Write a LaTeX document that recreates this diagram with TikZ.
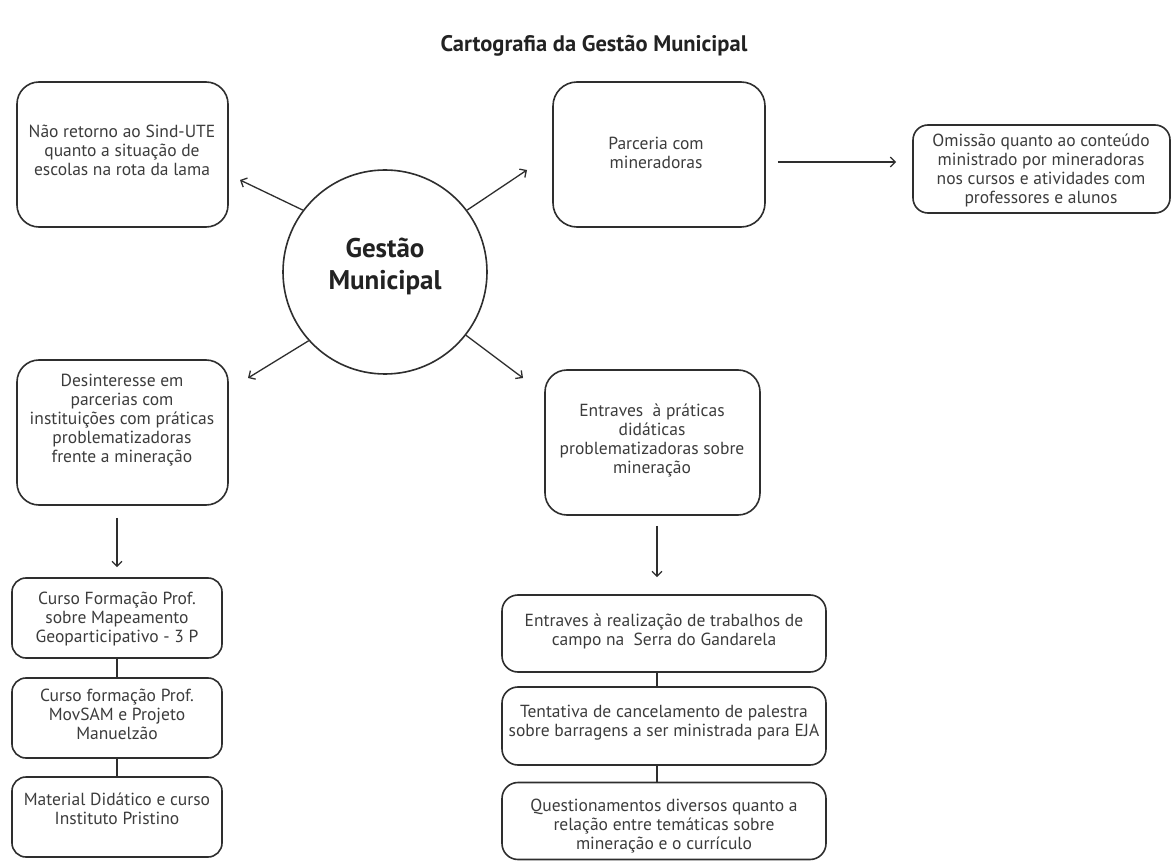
\documentclass[tikz,border=0pt]{standalone}
\usepackage{fontspec}
\setmainfont{PT Sans}
\usetikzlibrary{arrows.meta}
\definecolor{linec}{HTML}{2E2E2E}
\definecolor{textc}{HTML}{3C3C3C}
\definecolor{titlec}{HTML}{222222}
\newcommand{\bodyfs}{\fontsize{17.5}{19}\selectfont}
\tikzset{
  box/.style={draw=linec, line width=1.6pt, rounded corners=#1, inner sep=0pt},
  box/.default=20pt,
  txt/.style={text=textc, font=\bodyfs, align=center, inner sep=0pt},
  arr/.style={-{Straight Barb[length=5pt,width=10pt,line width=1.3pt]}, line width=1.3pt, draw=linec},
  link/.style={line width=1.6pt, draw=linec},
}
\begin{document}
\begin{tikzpicture}[x=1pt,y=-1pt]
\useasboundingbox (0,0) rectangle (1171,861);
\fill[white] (0,0) rectangle (1171,861);

% title
\node[text=titlec, font=\bfseries\fontsize{22.5}{26}\selectfont] (T) at (594,46) {Cartografia da Gestão Municipal};

% central circle
\node[circle, draw=linec, line width=1.6pt, minimum size=204pt, inner sep=0pt] (G) at (385,272) {};
\node[text=titlec, font=\bfseries\fontsize{27}{32}\selectfont, align=center] (Gt) at (385,266) {Gestão\\Municipal};

% upper boxes
\node[box=22pt, minimum width=211pt, minimum height=145pt] (A) at (122.5,154.5) {};
\node[txt] (At) at (122,150) {Não retorno ao Sind-UTE\\quanto a situação de\\escolas na rota da lama};

\node[box=24pt, minimum width=212pt, minimum height=145pt] (B) at (659,154.5) {};
\node[txt] (Bt) at (656,153) {Parceria com\\mineradoras};

\node[box=15pt, minimum width=257pt, minimum height=88pt] (C) at (1041.5,169) {};
\node[txt] (Ct) at (1041,170) {Omissão quanto ao conteúdo\\ministrado por mineradoras\\nos cursos e atividades com\\professores e alunos};

% left column
\node[box=22pt, minimum width=211pt, minimum height=145pt] (D) at (122.5,432.5) {};
\node[txt] (Dt) at (122,420) {Desinteresse em\\parcerias com\\instituições com práticas\\problematizadoras\\frente a mineração};

\node[box=14pt, minimum width=210pt, minimum height=80pt] (E) at (117,618) {};
\node[txt] (Et) at (117,619) {Curso Formação Prof.\\sobre Mapeamento\\Geoparticipativo - 3 P};

\node[box=14pt, minimum width=210pt, minimum height=80pt] (F) at (117,718) {};
\node[txt] (Ft) at (117,714) {Curso formação Prof.\\MovSAM e Projeto\\Manuelzão};

\node[box=14pt, minimum width=210pt, minimum height=80pt] (Gm) at (117,817) {};
\node[txt] (Gmt) at (117,809) {Material Didático e curso\\Instituto Pristino};

% right column
\node[box=22pt, minimum width=215pt, minimum height=145pt] (H) at (652.5,442.5) {};
\node[txt] (Ht) at (652,441) {Entraves\ \ à práticas\\didáticas\\problematizadoras sobre\\mineração};

\node[box=16pt, minimum width=324pt, minimum height=77pt] (I) at (664,633.5) {};
\node[txt] (It) at (664,631) {Entraves à realização de trabalhos de\\campo na\ \ Serra do Gandarela};

\node[box=16pt, minimum width=324pt, minimum height=78pt] (J) at (664,726) {};
\node[txt] (Jt) at (664,723) {Tentativa de cancelamento de palestra\\sobre barragens a ser ministrada para EJA};

\node[box=16pt, minimum width=324pt, minimum height=77pt] (K) at (664,821) {};
\node[txt] (Kt) at (664,826) {Questionamentos diversos quanto a\\relação entre temáticas sobre\\mineração e o currículo};

% free ends of the arrows leaving the circle
\coordinate (tUL) at (240,180);
\coordinate (tUR) at (527,170);
\coordinate (tLL) at (248,378);
\coordinate (tLR) at (523,378);
\draw[arr] (G.143.5) -- (tUL);
\draw[arr] (G.37.8) -- (tUR);
\draw[arr] (G.222.5) -- (tLL);
\draw[arr] (G.-38.6) -- (tLR);

% horizontal arrow between the top right boxes
\coordinate (bcy) at (0,162);
\draw[arr, shorten <=12pt, shorten >=16pt] (B.east |- bcy) -- (C.west |- bcy);

% vertical connectors
\coordinate (lc) at (117,0);
\coordinate (rc) at (657,0);
\draw[arr, shorten <=12pt, shorten >=10pt] (D.south -| lc) -- (E.north -| lc);
\draw[link] (E.south -| lc) -- (F.north -| lc);
\draw[link] (F.south -| lc) -- (Gm.north -| lc);
\draw[arr, shorten <=10pt, shorten >=17pt] (H.south -| rc) -- (I.north -| rc);
\draw[link] (I.south -| rc) -- (J.north -| rc);
\draw[link] (J.south -| rc) -- (K.north -| rc);
\end{tikzpicture}
\end{document}
